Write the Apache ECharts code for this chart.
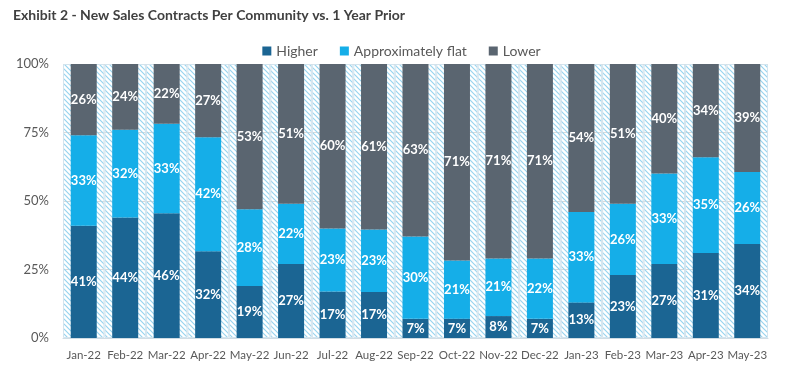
<!DOCTYPE html>
<html>
<head>
<meta charset="utf-8">
<script src="https://cdn.jsdelivr.net/npm/echarts@6/dist/echarts.min.js"></script>
<style>
html,body{margin:0;padding:0;background:#fff;}
#c{width:803px;height:368px;}
</style>
</head>
<body>
<div id="c"></div>
<script>
const categories = ['Jan-22','Feb-22','Mar-22','Apr-22','May-22','Jun-22','Jul-22','Aug-22','Sep-22','Oct-22','Nov-22','Dec-22','Jan-23','Feb-23','Mar-23','Apr-23','May-23'];
const higher = [41,44,46,32,19,27,17,17,7,7,8,7,13,23,27,31,34];
const flat   = [33,32,33,42,28,22,23,23,30,21,21,22,33,26,33,35,26];
const lower  = [26,24,22,27,53,51,60,61,63,71,71,71,54,51,40,34,39];
const yTicks = [0,25,50,75,100];

const totals = categories.map((_, i) => higher[i] + flat[i] + lower[i]);
const norm = arr => arr.map((v, i) => v / totals[i] * 100);

// hatch pattern
const pc = document.createElement('canvas');
pc.width = 5; pc.height = 5;
const g = pc.getContext('2d');
g.strokeStyle = '#98d4ef';
g.lineWidth = 1.2;
g.beginPath();
g.moveTo(-1,-1); g.lineTo(6,6);
g.moveTo(-1,4); g.lineTo(1,6);
g.moveTo(4,-1); g.lineTo(6,1);
g.stroke();

const labelFont = {fontFamily:'Lato', fontSize:13, fontWeight:'bold', color:'#ffffff'};
function mkSeries(name, arr, color) {
  return {
    name, type:'bar', stack:'s', xAxisIndex:0, yAxisIndex:0,
    data: norm(arr), barWidth: 26,
    itemStyle:{color},
    label:{show:true, position:'inside', ...labelFont,
      formatter: p => arr[p.dataIndex] + '%'},
    z: 3
  };
}

const chart = echarts.init(document.getElementById('c'), null, {renderer:'canvas'});
chart.setOption({
  animation:false,
  title:{text:'Exhibit 2 - New Sales Contracts Per Community vs. 1 Year Prior', left:8, top:3,
    textStyle:{fontFamily:'Lato', fontSize:14, fontWeight:'bold', color:'#404040'}},
  legend:{data:['Higher','Approximately flat','Lower'], left:'center', top:39,
    itemWidth:9, itemHeight:9, itemGap:22, icon:'rect',
    textStyle:{fontFamily:'Lato', fontSize:14, color:'#595959'}},
  grid:{left:63, right:35, top:64, bottom:30},
  xAxis:[
    {type:'category', data:categories, axisTick:{show:false},
     axisLine:{show:true, lineStyle:{color:'#d0dde5'}},
     axisLabel:{interval:0, fontFamily:'Lato', fontSize:11.5, color:'#595959', margin:11}},
    {type:'category', data:categories, show:false}
  ],
  yAxis:{type:'value', min:yTicks[0], max:yTicks[yTicks.length-1], interval:25,
    axisLine:{show:false}, axisTick:{show:false},
    splitLine:{lineStyle:{color:'#d9d9d9'}},
    axisLabel:{formatter:'{value}%', fontFamily:'Lato', fontSize:13, color:'#595959', margin:14}},
  series:[
    {name:'bg', type:'bar', xAxisIndex:1, yAxisIndex:0, data:categories.map(()=>yTicks[yTicks.length-1]),
     barWidth:'100%', silent:true, z:1,
     itemStyle:{color:{image:pc, repeat:'repeat'}, borderColor:'#d3e4ee', borderWidth:1}},
    mkSeries('Higher', higher, '#1b6593'),
    mkSeries('Approximately flat', flat, '#15aee8'),
    mkSeries('Lower', lower, '#5a6570')
  ]
});
</script>
</body>
</html>
